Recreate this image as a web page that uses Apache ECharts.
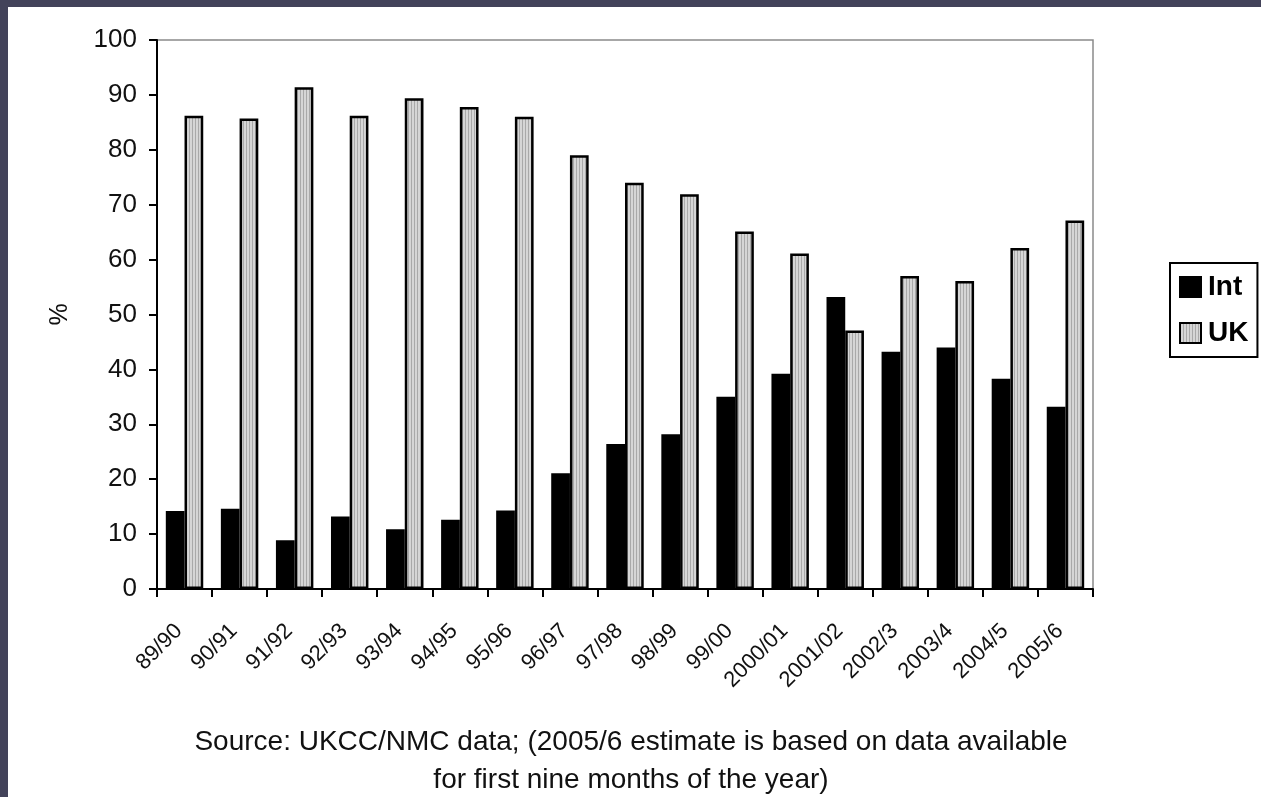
<!DOCTYPE html>
<html>
<head>
<meta charset="utf-8">
<script src="https://cdn.jsdelivr.net/npm/echarts@6/dist/echarts.min.js"></script>
<style>
  html, body { margin: 0; padding: 0; background: #fff; }
  #chart { width: 1261px; height: 797px; }
</style>
</head>
<body>
<div id="chart"></div>
<script>
// Academic years on the category axis
const years = ['89/90', '90/91', '91/92', '92/93', '93/94', '94/95', '95/96', '96/97', '97/98',
  '98/99', '99/00', '2000/01', '2001/02', '2002/3', '2003/4', '2004/5', '2005/6'];

// Share of new registrations (%) by origin
const intValues = [14.2, 14.6, 8.9, 13.2, 10.9, 12.6, 14.3, 21.1, 26.4, 28.2, 35, 39.2, 53.2, 43.2, 44, 38.3, 33.2];
const ukValues = [86.2, 85.7, 91.4, 86.2, 89.4, 87.8, 86, 79, 74, 71.9, 65.1, 61.1, 47.1, 57, 56.1, 62.1, 67.1];

const yTicks = [0, 10, 20, 30, 40, 50, 60, 70, 80, 90, 100];

const seriesNames = ['Int', 'UK'];
const yAxisTitle = '%';
const captionLines = [
  'Source: UKCC/NMC data; (2005/6 estimate is based on data available',
  'for first nine months of the year)'
];

// Vertical-stripe fill for the UK bars
function stripePattern() {
  const c = document.createElement('canvas');
  c.width = 3; c.height = 8;
  const g = c.getContext('2d');
  g.fillStyle = '#d6d6d6';
  g.fillRect(0, 0, 3, 8);
  g.fillStyle = '#a9a9a9';
  g.fillRect(0, 0, 1, 8);
  return { image: c, repeat: 'repeat' };
}

const chart = echarts.init(document.getElementById('chart'), null, { renderer: 'canvas' });
const font = '"Liberation Sans", Arial, sans-serif';

chart.setOption({
  animation: false,
  backgroundColor: '#ffffff',
  textStyle: { fontFamily: font },
  grid: {
    left: 157, right: 168, top: 40, bottom: 208,
    show: true, borderColor: '#8a8a8a', borderWidth: 1.5, backgroundColor: 'transparent'
  },
  legend: {
    data: seriesNames,
    orient: 'vertical',
    left: 1170, top: 263,
    padding: [10, 9, 10, 9],
    itemWidth: 21, itemHeight: 20, itemGap: 18,
    borderColor: '#000', borderWidth: 2,
    textStyle: { fontSize: 28, fontWeight: 'bold', color: '#000', fontFamily: font, padding: [0, 0, 0, 2] },
    icon: 'rect'
  },
  xAxis: {
    type: 'category',
    data: years,
    boundaryGap: true,
    axisLine: { lineStyle: { color: '#000', width: 2 } },
    axisTick: { show: true, alignWithLabel: false, length: 8, lineStyle: { color: '#000', width: 2 } },
    axisLabel: { rotate: 45, interval: 0, margin: 33, fontSize: 22, color: '#111', fontFamily: font, padding: [0, 8, 0, 0] }
  },
  yAxis: {
    type: 'value',
    min: yTicks[0], max: yTicks[yTicks.length - 1], interval: 10,
    name: yAxisTitle,
    nameLocation: 'middle',
    nameRotate: 90,
    nameGap: 84,
    nameTextStyle: { fontSize: 25, color: '#111', fontFamily: font },
    splitLine: { show: false },
    axisLine: { show: true, lineStyle: { color: '#000', width: 2 } },
    axisTick: { show: true, length: 8, lineStyle: { color: '#000', width: 2 } },
    axisLabel: { margin: 20, fontSize: 26, color: '#111', fontFamily: font }
  },
  series: [
    {
      name: seriesNames[0],
      type: 'bar',
      data: intValues,
      barGap: '0%',
      barCategoryGap: '32%',
      itemStyle: { color: '#000', borderColor: '#000', borderWidth: 2 }
    },
    {
      name: seriesNames[1],
      type: 'bar',
      data: ukValues,
      itemStyle: { color: stripePattern(), borderColor: '#000', borderWidth: 2.5 }
    }
  ],
  graphic: [
    { type: 'rect', left: 0, top: 0, shape: { width: 1261, height: 7 }, style: { fill: '#43435a' }, silent: true },
    { type: 'rect', left: 0, top: 0, shape: { width: 8, height: 797 }, style: { fill: '#43435a' }, silent: true },
    {
      type: 'text', x: 631, y: 742,
      style: { text: captionLines[0], fontSize: 28, fill: '#111', fontFamily: font, align: 'center', verticalAlign: 'middle' }
    },
    {
      type: 'text', x: 631, y: 780,
      style: { text: captionLines[1], fontSize: 28, fill: '#111', fontFamily: font, align: 'center', verticalAlign: 'middle' }
    }
  ]
});
</script>
</body>
</html>
